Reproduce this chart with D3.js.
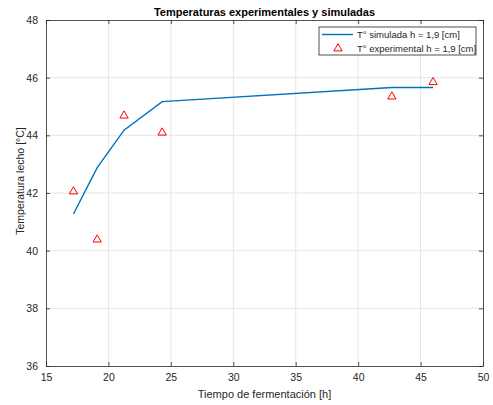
<!DOCTYPE html>
<html>
<head>
<meta charset="utf-8">
<script src="https://cdn.jsdelivr.net/npm/d3@7"></script>
<style>
  body { margin: 0; background: #fff; }
  svg { font-family: "Liberation Sans", Arial, Helvetica, sans-serif; }
</style>
</head>
<body>
<svg id="chart" width="493" height="405"></svg>
<script>
'use strict'

// simulated curve
const simTime = [17.2, 19.1, 21.25, 24.3, 42.7, 46.0]
const simTemp = [41.27, 42.88, 44.18, 45.17, 45.66, 45.66]
// experimental points
const expTime = [17.2, 19.1, 21.25, 24.3, 42.7, 46.0]
const expTemp = [42.07, 40.4, 44.7, 44.11, 45.36, 45.86]

const xTicks = [15, 20, 25, 30, 35, 40, 45, 50]
const yTicks = [36, 38, 40, 42, 44, 46, 48]

const svg = d3.select('#chart')
const m = { left: 46, right: 483, top: 20, bottom: 366 }

const x = d3.scaleLinear().domain([15, 50]).range([m.left, m.right])
const y = d3.scaleLinear().domain([36, 48]).range([m.bottom, m.top])

const txt = '#262626'
const axisCol = '#262626'

// grid
svg.append('g').selectAll('line').data(xTicks.slice(1, -1)).join('line')
  .attr('x1', d => x(d)).attr('x2', d => x(d))
  .attr('y1', m.top).attr('y2', m.bottom)
  .attr('stroke', '#e6e6e6').attr('stroke-width', 1)
svg.append('g').selectAll('line').data(yTicks.slice(1, -1)).join('line')
  .attr('y1', d => y(d)).attr('y2', d => y(d))
  .attr('x1', m.left).attr('x2', m.right)
  .attr('stroke', '#e6e6e6').attr('stroke-width', 1)

// axes (ticks inside)
const xAxis = svg.append('g')
  .attr('transform', `translate(0,${m.bottom})`)
  .call(d3.axisBottom(x).tickValues(xTicks).tickSizeInner(-4).tickSizeOuter(0).tickPadding(8))
const yAxis = svg.append('g')
  .attr('transform', `translate(${m.left},0)`)
  .call(d3.axisLeft(y).tickValues(yTicks).tickSizeInner(-4).tickSizeOuter(0).tickPadding(8))
const xTop = svg.append('g')
  .attr('transform', `translate(0,${m.top})`)
  .call(d3.axisTop(x).tickValues(xTicks).tickSizeInner(-4).tickSizeOuter(0).tickFormat(''))
const yRight = svg.append('g')
  .attr('transform', `translate(${m.right},0)`)
  .call(d3.axisRight(y).tickValues(yTicks).tickSizeInner(-4).tickSizeOuter(0).tickFormat(''))

for (const g of [xAxis, yAxis, xTop, yRight]) {
  g.select('.domain').attr('stroke', axisCol).attr('stroke-width', 0.8)
  g.selectAll('.tick line').attr('stroke', axisCol).attr('stroke-width', 0.8)
  g.selectAll('.tick text').attr('fill', txt).attr('font-size', 10.5)
}

// simulated line
const line = d3.line().x(d => x(d[0])).y(d => y(d[1]))
svg.append('path')
  .datum(simTime.map((t, i) => [t, simTemp[i]]))
  .attr('d', line)
  .attr('fill', 'none')
  .attr('stroke', '#0072BD')
  .attr('stroke-width', 1.4)

// experimental triangles
const tri = d3.symbol().type(d3.symbolTriangle).size(30)
svg.append('g').selectAll('path')
  .data(expTime.map((t, i) => [t, expTemp[i]]))
  .join('path')
  .attr('d', tri)
  .attr('transform', d => `translate(${x(d[0])},${y(d[1]) + 0.5})`)
  .attr('fill', 'none')
  .attr('stroke', '#FF0000')
  .attr('stroke-width', 1)

// title and labels
svg.append('text')
  .attr('x', (m.left + m.right) / 2).attr('y', 16)
  .attr('text-anchor', 'middle')
  .attr('font-size', 11).attr('font-weight', 'bold').attr('fill', '#000')
  .text('Temperaturas experimentales y simuladas')

svg.append('text')
  .attr('x', (m.left + m.right) / 2).attr('y', 398)
  .attr('text-anchor', 'middle')
  .attr('font-size', 11).attr('fill', txt)
  .text('Tiempo de fermentación [h]')

svg.append('text')
  .attr('transform', `translate(24,181) rotate(-90)`)
  .attr('text-anchor', 'middle')
  .attr('font-size', 10.5).attr('fill', txt)
  .text('Temperatura lecho [°C]')

// legend
const lg = svg.append('g').attr('transform', 'translate(319,27)')
lg.append('rect').attr('width', 157).attr('height', 28)
  .attr('fill', '#fff').attr('stroke', '#262626').attr('stroke-width', 0.8)
lg.append('line').attr('x1', 3).attr('x2', 34).attr('y1', 7.5).attr('y2', 7.5)
  .attr('stroke', '#0072BD').attr('stroke-width', 1.4)
lg.append('path').attr('d', tri).attr('transform', 'translate(19,21.5)')
  .attr('fill', 'none').attr('stroke', '#FF0000').attr('stroke-width', 1)
lg.selectAll('text').data(['T° simulada h = 1,9 [cm]', 'T° experimental h = 1,9 [cm]']).join('text')
  .attr('x', 38).attr('y', (d, i) => 11 + i * 14)
  .attr('font-size', 9.5).attr('fill', txt)
  .text(d => d)
</script>
</body>
</html>
